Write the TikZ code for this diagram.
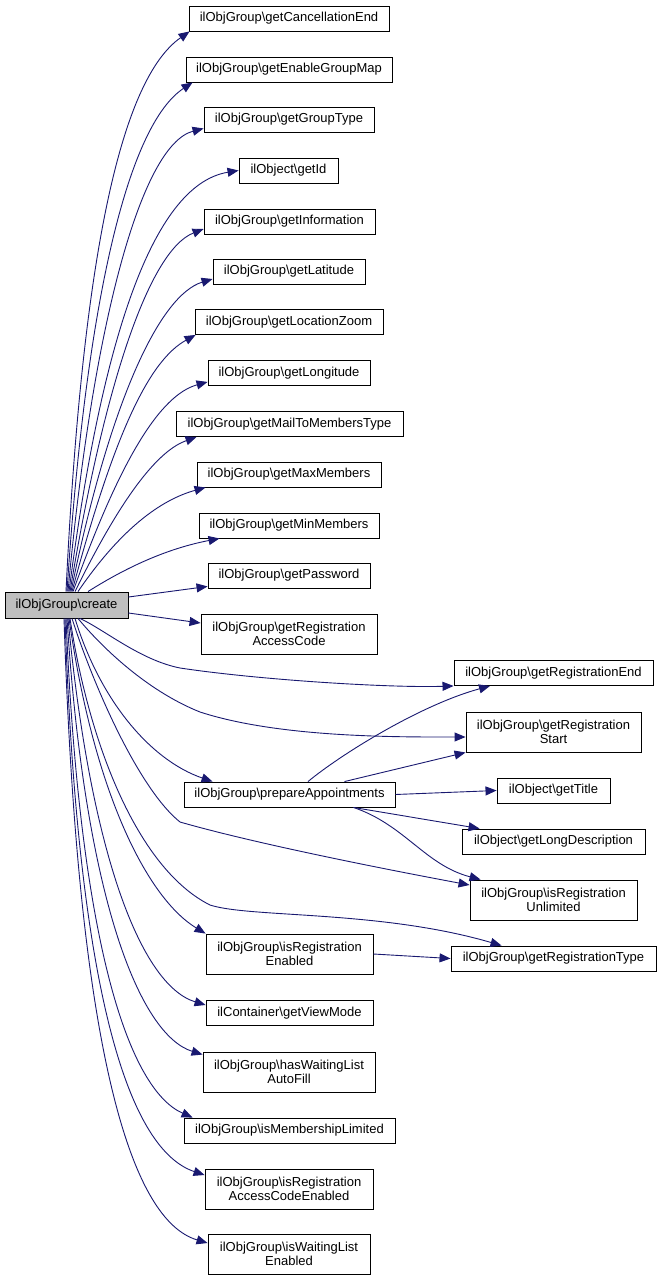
\documentclass[tikz,border=0pt]{standalone}
\usepackage{fontspec}
\setmainfont{Liberation Sans}
\usetikzlibrary{arrows.meta}
\definecolor{edgecol}{HTML}{191970}
\definecolor{rootfill}{HTML}{BFBFBF}
\begin{document}
\begin{tikzpicture}[x=1pt,y=-1pt,
  box/.style={draw=black, line width=0.9pt, fill=white, inner sep=0pt, align=center, font=\fontsize{13}{14.3}\selectfont, minimum height=25pt},
  tall/.style={minimum height=40pt},
  edge/.style={draw=edgecol, line width=0.9pt, -{Triangle[length=11pt,width=9pt]}},
]
\useasboundingbox (0,0) rectangle (660,1281);

% left column
\node[box, minimum width=200pt] (cancel) at (289,18.5) {ilObjGroup\textbackslash getCancellationEnd};
\node[box, minimum width=206pt] (enable) at (289,69.5) {ilObjGroup\textbackslash getEnableGroupMap};
\node[box, minimum width=170pt] (grouptype) at (289,119.5) {ilObjGroup\textbackslash getGroupType};
\node[box, minimum width=99pt] (getid) at (288.5,170.5) {ilObject\textbackslash getId};
\node[box, minimum width=171pt] (info) at (289.5,221.5) {ilObjGroup\textbackslash getInformation};
\node[box, minimum width=152pt] (lat) at (289,271.5) {ilObjGroup\textbackslash getLatitude};
\node[box, minimum width=188pt] (loczoom) at (289,322) {ilObjGroup\textbackslash getLocationZoom};
\node[box, minimum width=162pt] (long) at (289,373) {ilObjGroup\textbackslash getLongitude};
\node[box, minimum width=227pt] (mail) at (289.5,424) {ilObjGroup\textbackslash getMailToMembersType};
\node[box, minimum width=184pt] (max) at (289,474.5) {ilObjGroup\textbackslash getMaxMembers};
\node[box, minimum width=180pt] (min) at (289,525.5) {ilObjGroup\textbackslash getMinMembers};
\node[box, minimum width=162pt] (pwd) at (289,575.5) {ilObjGroup\textbackslash getPassword};
\node[box, tall, minimum width=176pt] (regaccess) at (289,634) {ilObjGroup\textbackslash getRegistration\\AccessCode};
\node[box, minimum width=123pt, fill=rootfill, minimum height=26pt] (create) at (66.5,605) {ilObjGroup\textbackslash create};
\node[box, minimum width=211pt] (prepare) at (289.5,794.5) {ilObjGroup\textbackslash prepareAppointments};
\node[box, tall, minimum width=167pt] (isregen) at (289.5,954) {ilObjGroup\textbackslash isRegistration\\Enabled};
\node[box, minimum width=167pt] (viewmode) at (289.5,1013) {ilContainer\textbackslash getViewMode};
\node[box, tall, minimum width=172pt] (haswait) at (289,1072) {ilObjGroup\textbackslash hasWaitingList\\AutoFill};
\node[box, minimum width=211pt] (membership) at (289.5,1130.5) {ilObjGroup\textbackslash isMembershipLimited};
\node[box, tall, minimum width=168pt] (regaccen) at (289,1189) {ilObjGroup\textbackslash isRegistration\\AccessCodeEnabled};
\node[box, tall, minimum width=162pt] (waiten) at (289,1254) {ilObjGroup\textbackslash isWaitingList\\Enabled};

% right column
\node[box, minimum width=199pt] (regend) at (553.5,673) {ilObjGroup\textbackslash getRegistrationEnd};
\node[box, tall, minimum width=175pt] (regstart) at (553.5,732) {ilObjGroup\textbackslash getRegistration\\Start};
\node[box, minimum width=113pt] (gettitle) at (553.5,790.5) {ilObject\textbackslash getTitle};
\node[box, minimum width=183pt] (longdesc) at (553.5,841.5) {ilObject\textbackslash getLongDescription};
\node[box, tall, minimum width=167pt] (isregunl) at (553.5,900) {ilObjGroup\textbackslash isRegistration\\Unlimited};
\node[box, minimum width=205pt] (getregtype) at (553.5,958.5) {ilObjGroup\textbackslash getRegistrationType};

% upper edges from create
\draw[edge] ([xshift=-0.5pt]create.north) .. controls (82,260) and (120,80) .. ([xshift=1pt]cancel.south west);
\draw[edge] ([xshift=0.5pt]create.north) .. controls (86,300) and (128,125) .. ([xshift=7pt]enable.south west);
\draw[edge] ([xshift=1.5pt]create.north) .. controls (92,330) and (140,145) .. ([yshift=4pt]grouptype.south west);
\draw[edge] ([xshift=2.5pt]create.north) .. controls (100,350) and (150,185) .. (getid.west);
\draw[edge] ([xshift=3.5pt]create.north) .. controls (105,380) and (150,250) .. ([yshift=-7.5pt]info.west);
\draw[edge] ([xshift=4.5pt]create.north) .. controls (110,400) and (160,295) .. ([yshift=-7.5pt]lat.west);
\draw[edge] ([xshift=5.5pt]create.north) .. controls (115,430) and (150,360) .. ([xshift=1pt]loczoom.south west);
\draw[edge] ([xshift=6.5pt]create.north) .. controls (120,460) and (160,395) .. ([yshift=4pt]long.south west);
\draw[edge] ([xshift=8.5pt]create.north) .. controls (125,490) and (160,450) .. ([xshift=21pt]mail.south west);
\draw[edge] ([xshift=11.5pt]create.north) .. controls (120,530) and (160,500) .. ([xshift=9pt]max.south west);
\draw[edge] ([xshift=21.5pt]create.north) .. controls (130,565) and (170,548) .. ([xshift=21pt]min.south west);
\draw[edge] ([yshift=8pt]create.east) -- ([yshift=2pt]pwd.south west);
\draw[edge] ([yshift=-8pt]create.east) -- ([yshift=11pt]regaccess.west);

% lower edges from create
\draw[edge] ([xshift=13.5pt]create.south) .. controls (105,630) and (140,660) .. (180,668) .. controls (260,680) and (390,688) .. (regend.south west);
\draw[edge] ([xshift=11.5pt]create.south) .. controls (100,645) and (145,690) .. (200,712) .. controls (280,738) and (400,737) .. ([yshift=-5pt]regstart.west);
\draw[edge] ([xshift=8.5pt]create.south) .. controls (100,700) and (150,760) .. ([xshift=29pt]prepare.north west);
\draw[edge] ([xshift=5.5pt]create.south) .. controls (95,690) and (140,790) .. (180,822) .. controls (260,845) and (400,872) .. ([yshift=15pt]isregunl.west);
\draw[edge] ([xshift=3.5pt]create.south) .. controls (90,750) and (140,870) .. (210,905) .. controls (250,918) and (380,910) .. ([xshift=51pt]getregtype.north west);
\draw[edge] ([xshift=2.5pt]create.south) .. controls (95,800) and (150,900) .. (isregen.north west);
\draw[edge] ([xshift=1.5pt]create.south) .. controls (90,850) and (140,985) .. ([yshift=8pt]viewmode.west);
\draw[edge] ([xshift=0.5pt]create.south) .. controls (85,900) and (140,1035) .. ([yshift=-3pt]haswait.north west);
\draw[edge] ([xshift=-0.5pt]create.south) .. controls (80,950) and (130,1090) .. ([xshift=9pt]membership.north west);
\draw[edge] ([xshift=-1.5pt]create.south) .. controls (78,1000) and (130,1150) .. ([yshift=14pt]regaccen.west);
\draw[edge] ([xshift=-2.5pt]create.south) .. controls (78,1050) and (130,1220) .. ([yshift=11pt]waiten.west);

% edges from prepareAppointments
\draw[edge] ([xshift=18.5pt]prepare.north) .. controls (340,755) and (420,705) .. ([xshift=-63.5pt]regend.south);
\draw[edge] ([xshift=55pt]prepare.north) -- (regstart.south west);
\draw[edge] (prepare.east) -- (gettitle.west);
\draw[edge] ([xshift=64pt]prepare.south) -- ([xshift=18pt]longdesc.north west);
\draw[edge] ([xshift=64pt]prepare.south) .. controls (405,825) and (425,865) .. ([xshift=11pt]isregunl.north west);

% isRegistrationEnabled -> getRegistrationType
\draw[edge] (isregen.east) -- (getregtype.west);
\end{tikzpicture}
\end{document}
